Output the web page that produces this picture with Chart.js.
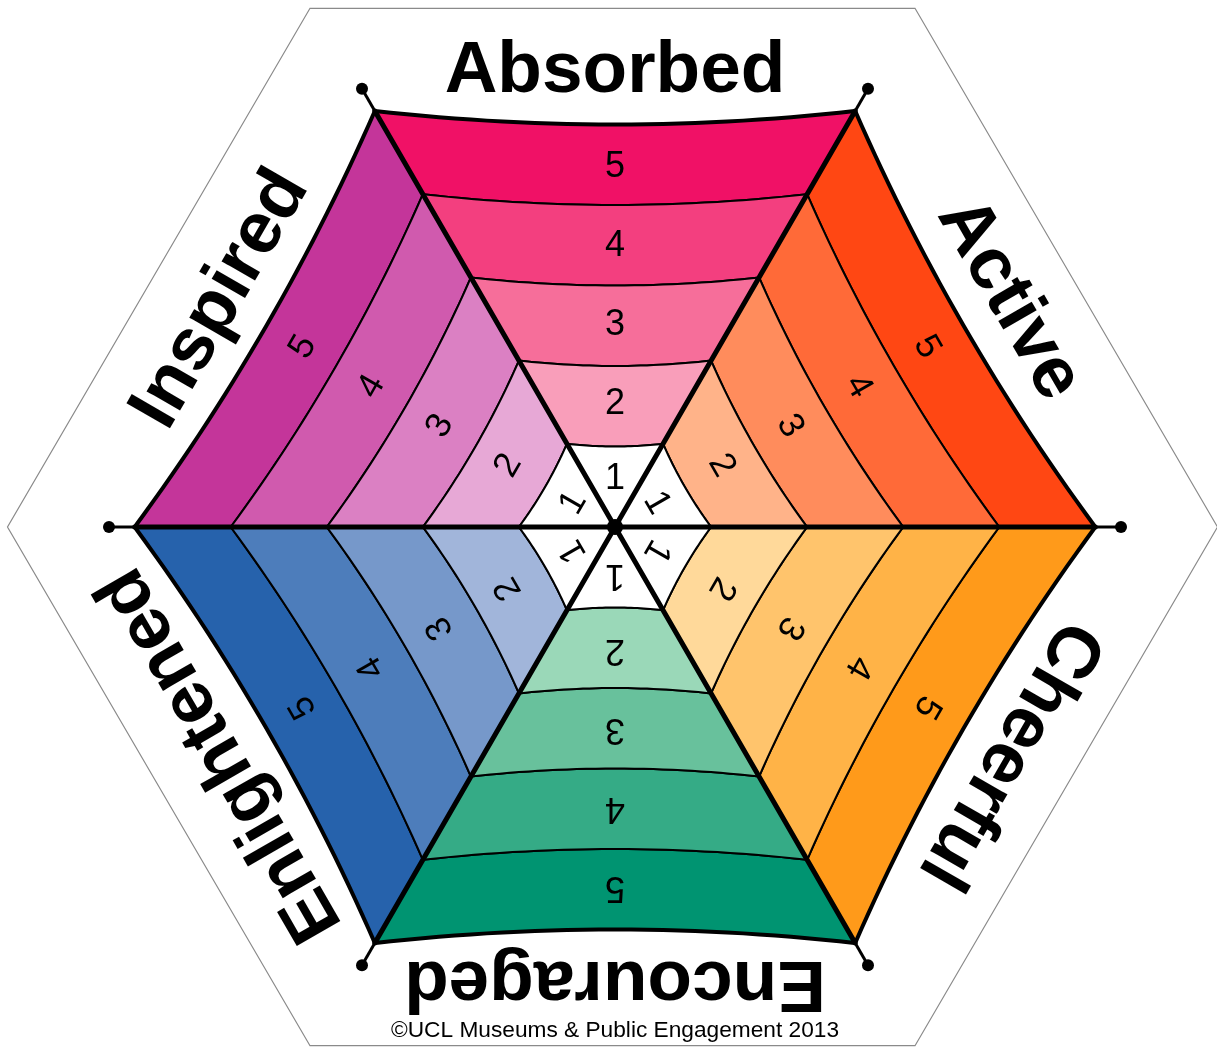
<!DOCTYPE html>
<html>
<head>
<meta charset="utf-8">
<script src="https://cdn.jsdelivr.net/npm/chart.js@4.4.0/dist/chart.umd.min.js"></script>
<style>
html,body{margin:0;padding:0;background:#ffffff;}
#wrap{width:1217px;height:1050px;position:relative;}
</style>
</head>
<body>
<div id="wrap"><canvas id="c"></canvas></div>
<script>
// ---------- data ----------
const categories = ['Absorbed', 'Active', 'Cheerful', 'Encouraged', 'Enlightened', 'Inspired'];
const levels = [1, 2, 3, 4, 5];
const levelLabels = ['1', '2', '3', '4', '5'];
const creditText = '\u00A9UCL Museums & Public Engagement 2013';

// ---------- styles ----------
const palette = {
  Absorbed:    ['#FFFFFF', '#F99EBA', '#F66E9A', '#F33F7F', '#F01166'],
  Active:      ['#FFFFFF', '#FFB389', '#FF8C5C', '#FF6A38', '#FF4713'],
  Cheerful:    ['#FFFFFF', '#FFD99A', '#FFC46C', '#FFB347', '#FF9A1A'],
  Encouraged:  ['#FFFFFF', '#9AD8B8', '#68C19C', '#35AB86', '#009471'],
  Enlightened: ['#FFFFFF', '#A1B5DA', '#7698CA', '#4D7DBB', '#2662AC'],
  Inspired:    ['#FFFFFF', '#E7A8D6', '#DB80C3', '#D05AAE', '#C4359A']
};
const FONT = '"Liberation Sans", Arial, Helvetica, sans-serif';

// ---------- layout ----------
const W = 1217, H = 1050, CX = 615, CY = 527, PX = 83.2;   // px per level unit
const D2R = Math.PI / 180;
const NSEC = categories.length;
const HALF = 180 / NSEC * D2R;
const CR = 1 / Math.cos(HALF);          // corner radius per level unit
const SAG = 0.028;
const SEG_N = 30;
const maxLevel = levels[levels.length - 1];
const dotR = 506 / PX;
const outerHex = { r: 605 / PX, dx: -2.5 / PX, sy: 0.99 };
const labelR = 455 / PX;
function numberR(k) { return (k === 1 ? 48 : 44 + 79 * (k - 1)) / PX; }

function secCenter(i) { return (90 - 360 / NSEC * i) * D2R; }
function polar(a, r) { return { x: r * Math.cos(a), y: r * Math.sin(a) }; }
function boundary(i, k) {
  if (k === 0) return [{ x: 0, y: 0 }];
  const c = secCenter(i);
  const P0 = polar(c + HALF, k * CR), P1 = polar(c - HALF, k * CR);
  const chord = Math.hypot(P1.x - P0.x, P1.y - P0.y);
  const M = { x: (P0.x + P1.x) / 2, y: (P0.y + P1.y) / 2 };
  const C = { x: M.x - 2 * SAG * chord * Math.cos(c), y: M.y - 2 * SAG * chord * Math.sin(c) };
  const pts = [];
  for (let s = 0; s <= SEG_N; s++) {
    const t = s / SEG_N, u = 1 - t;
    pts.push({ x: u * u * P0.x + 2 * u * t * C.x + t * t * P1.x,
               y: u * u * P0.y + 2 * u * t * C.y + t * t * P1.y });
  }
  return pts;
}

const datasets = [];
// outer grey hexagon
const hexPts = [];
for (let j = 0; j <= NSEC; j++) {
  const p = polar((360 / NSEC * j) * D2R, outerHex.r);
  hexPts.push({ x: p.x + outerHex.dx, y: p.y * outerHex.sy });
}
datasets.push({ data: hexPts, showLine: true, fill: false, borderColor: '#8a8a8a', borderWidth: 1.2,
  pointRadius: 0, order: 30, borderJoinStyle: 'miter' });

// bands
categories.forEach((cat, i) => {
  levels.forEach((k, li) => {
    const inner = boundary(i, k - 1);
    const outer = boundary(i, k).slice().reverse();
    const pts = inner.concat(outer);
    pts.push(Object.assign({}, pts[0]));
    datasets.push({ label: cat + ' ' + levelLabels[li], data: pts, showLine: true, fill: 'shape',
      backgroundColor: palette[cat][li], borderColor: '#000', borderWidth: 2,
      borderJoinStyle: 'round', borderCapStyle: 'round', pointRadius: 0, order: 20 });
  });
});

// thick outer edge
let edge = [];
categories.forEach((c, i) => { edge = edge.concat(boundary(i, maxLevel)); });
datasets.push({ data: edge, showLine: true, fill: false, borderColor: '#000', borderWidth: 4,
  borderJoinStyle: 'miter', pointRadius: 0, order: 10 });

// spokes
for (let j = 0; j < NSEC; j++) {
  const a = (360 / NSEC * j) * D2R;
  datasets.push({ data: [{ x: 0, y: 0 }, polar(a, maxLevel * CR)], showLine: true, fill: false,
    borderColor: '#000', borderWidth: 5, borderCapStyle: 'round', pointRadius: 0, order: 5 });
  datasets.push({ data: [polar(a, maxLevel * CR), polar(a, dotR)], showLine: true, fill: false,
    borderColor: '#000', borderWidth: 3, pointRadius: 0, order: 5 });
}
// dots
const dotPts = [];
for (let j = 0; j < NSEC; j++) dotPts.push(polar((360 / NSEC * j) * D2R, dotR));
datasets.push({ data: dotPts, showLine: false, pointRadius: 6, pointBackgroundColor: '#000',
  pointBorderWidth: 0, order: 2 });
datasets.push({ data: [{ x: 0, y: 0 }], showLine: false, pointRadius: 8, pointBackgroundColor: '#000',
  pointBorderWidth: 0, order: 1 });

// ---------- text plugin ----------
const textPlugin = {
  id: 'wheelText',
  afterDatasetsDraw(chart) {
    const { ctx, scales: { x, y } } = chart;
    const put = (txt, p, rot, font) => {
      ctx.save();
      ctx.translate(x.getPixelForValue(p.x), y.getPixelForValue(p.y));
      ctx.rotate(rot);
      ctx.font = font;
      ctx.fillStyle = '#000';
      ctx.textAlign = 'center';
      ctx.textBaseline = 'middle';
      ctx.fillText(txt, 0, 0);
      ctx.restore();
    };
    categories.forEach((cat, i) => {
      const c = secCenter(i);
      const rot = (360 / NSEC * i) * D2R;
      put(cat, polar(c, labelR), rot, 'bold 73px ' + FONT);
      levels.forEach((k, li) => {
        put(levelLabels[li], polar(c, numberR(k)), rot, '36px ' + FONT);
      });
    });
    put(creditText, { x: 0, y: (CY - 1031) / PX }, 0, '22.7px ' + FONT);
  }
};

new Chart(document.getElementById('c'), {
  type: 'scatter',
  data: { datasets },
  options: {
    responsive: true,
    maintainAspectRatio: false,
    animation: false,
    devicePixelRatio: 1,
    events: [],
    layout: { padding: 0, autoPadding: false },
    plugins: { legend: { display: false }, tooltip: { enabled: false }, title: { display: false } },
    scales: {
      x: { type: 'linear', display: false, min: -CX / PX, max: (W - CX) / PX },
      y: { type: 'linear', display: false, min: -(H - CY) / PX, max: CY / PX }
    }
  },
  plugins: [textPlugin]
});
</script>
</body>
</html>
